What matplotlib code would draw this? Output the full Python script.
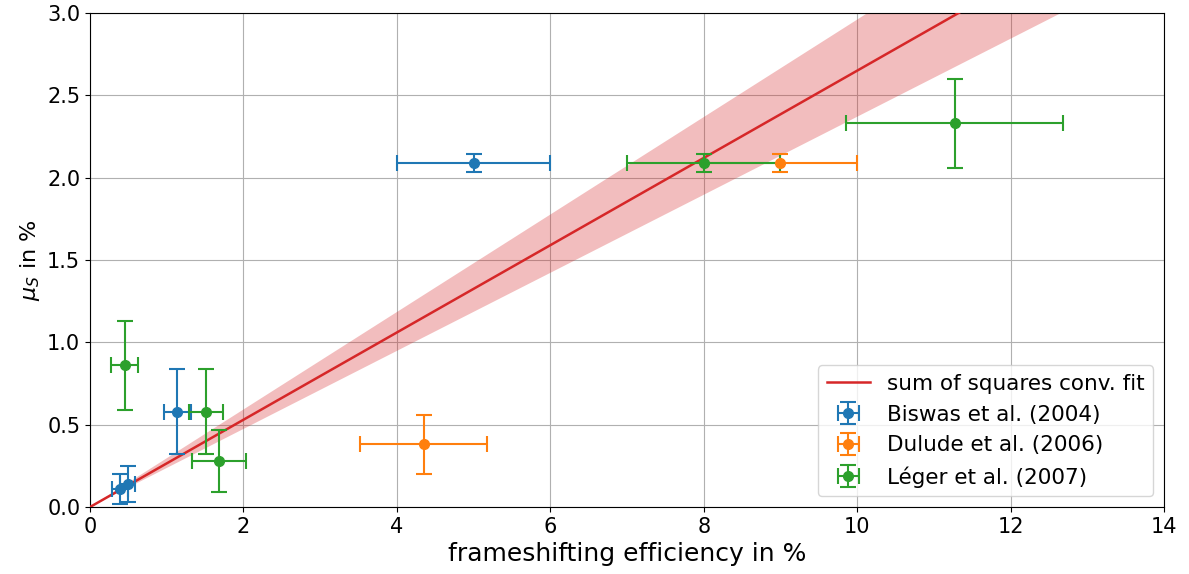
import numpy as np
import matplotlib
matplotlib.use("Agg")
import matplotlib.pyplot as plt

# Data
biswas_x = [5.0, 1.14, 0.39, 0.49]
biswas_y = [2.09, 0.58, 0.11, 0.14]
biswas_xerr = [1.0, 0.18, 0.1, 0.1]
biswas_yerr = [0.055, 0.26, 0.09, 0.11]

dulude_x = [9.0, 4.35]
dulude_y = [2.09, 0.38]
dulude_xerr = [1.0, 0.83]
dulude_yerr = [0.055, 0.18]

leger_x = [8.0, 11.27, 0.45, 1.51, 1.68]
leger_y = [2.09, 2.33, 0.86, 0.58, 0.28]
leger_xerr = [1.0, 1.41, 0.18, 0.22, 0.35]
leger_yerr = [0.055, 0.27, 0.27, 0.26, 0.19]

fit_slope = 0.265
fit_slope_upper = 0.296
fit_slope_lower = 0.237

fig = plt.figure(figsize=(11.89, 5.74), dpi=100)
ax = fig.add_axes([0.0757, 0.1167, 0.9033, 0.8606])

xs = np.linspace(0, 14, 200)
ax.fill_between(xs, fit_slope_lower * xs, fit_slope_upper * xs,
                color="tab:red", alpha=0.3, linewidth=0)
ax.plot(xs, fit_slope * xs, color="tab:red", linewidth=1.8,
        label="sum of squares conv. fit", zorder=3)

kw = dict(fmt="o", capsize=6, markersize=7, elinewidth=1.5, capthick=1.5, zorder=4)
ax.errorbar(biswas_x, biswas_y, xerr=biswas_xerr, yerr=biswas_yerr,
            color="tab:blue", label="Biswas et al. (2004)", **kw)
ax.errorbar(dulude_x, dulude_y, xerr=dulude_xerr, yerr=dulude_yerr,
            color="tab:orange", label="Dulude et al. (2006)", **kw)
ax.errorbar(leger_x, leger_y, xerr=leger_xerr, yerr=leger_yerr,
            color="tab:green", label="Léger et al. (2007)", **kw)

ax.set_xlim(0, 14)
ax.set_ylim(0, 3.0)
ax.grid(True, color="#b0b0b0", linewidth=0.8)
ax.set_axisbelow(True)
ax.tick_params(labelsize=15)
ax.set_xlabel("frameshifting efficiency in %", fontsize=18)
ax.set_ylabel(r"$\mu_S$ in %", fontsize=16)
ax.legend(loc="lower right", fontsize=15.5)

fig.savefig("out.png", dpi=100)
